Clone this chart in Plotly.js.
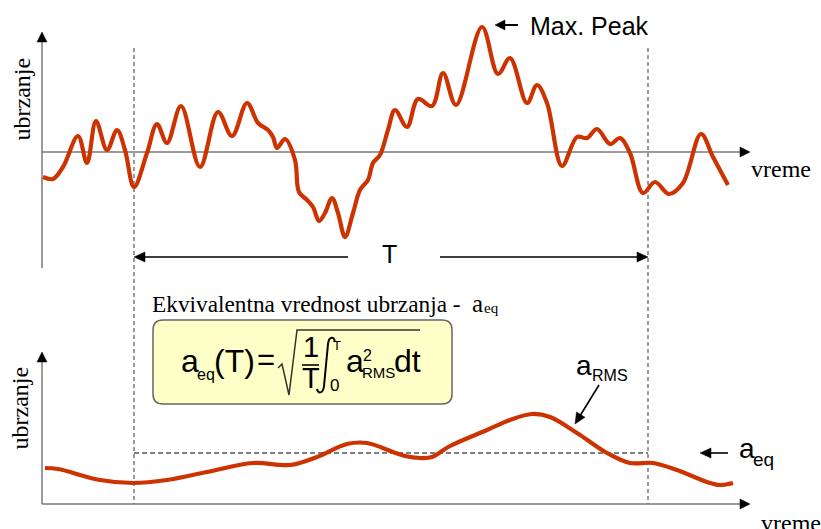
<!DOCTYPE html>
<html>
<head>
<meta charset="utf-8">
<script src="https://cdn.plot.ly/plotly-3.0.1.min.js"></script>
<style>html,body{margin:0;padding:0;background:#fff;}#chart{width:821px;height:529px;}</style>
</head>
<body>
<div id="chart"></div>
<script>
// ---- data (time in arbitrary units, acceleration in arbitrary units) ----
const tTop = [43,53,63,78,87,96,107,117,125,134,147,157,167,181,200,218,232,247,258,268,273,277,285,295,299,307,313,319,325,332,338,345,353,360,368,373,380,388,395,407,418,432,443,456,482,498,510,527,537,547,562,577,587,597,610,620,630,643,655,669,683,701,713,728];
const accTop = [-25,-27,-15,16,-11,31,2,22,2,-35,-1,28,9,46,-15,40,16,49,29,22,15,4,13,-8,-40,-48,-55,-69,-61,-46,-61,-85,-61,-38,-28,-11,-3,22,42,25,53,46,79,47,125,78,94,49,67,49,-14,15,14,23,8,14,-1,-41,-30,-42,-31,18,-5,-33];
const tBottom = [45,58,100,133,167,207,253,290,317,347,367,393,405,420,432,450,487,510,532,550,577,607,630,653,677,707,720,733];
const aRms = [36,35,24,21,24,32,41,39,47,60,61,52,48,46,47,58,74,84,90,87,71,51,41,41,34,22,19,21];
const tWindow = [134, 648];   // start / end of averaging period T
const aEq = [51];             // equivalent value

const W = 821, H = 529;
const RED = '#CC3300';
const SERIF = '"Liberation Serif","Times New Roman",serif';
const SANS = '"Liberation Sans",Arial,sans-serif';

const traces = [
  {x: tTop, y: accTop, xaxis:'x', yaxis:'y', mode:'lines', hoverinfo:'skip',
   line:{color:RED, width:4.2, shape:'spline', smoothing:1}},
  {x: tBottom, y: aRms, xaxis:'x', yaxis:'y2', mode:'lines', hoverinfo:'skip',
   line:{color:RED, width:4.2, shape:'spline', smoothing:1}}
];

const shapes = [];
const ann = [];
function line(x0,y0,x1,y1,color,width,dash,layer){
  shapes.push({type:'line', xref:'x', yref:'y3', x0:x0,y0:y0,x1:x1,y1:y1,
    line:{color:color,width:width,dash:dash||'solid'}, layer:layer||'above'});
}
function path(d,color,width,fill,layer){
  shapes.push({type:'path', xref:'x', yref:'y3', path:d,
    line:{color:color,width:width}, fillcolor:fill||'rgba(0,0,0,0)', layer:layer||'above'});
}
function head(tx,ty,fx,fy,len,hw,color){
  const dx=tx-fx, dy=ty-fy, L=Math.hypot(dx,dy), ux=dx/L, uy=dy/L;
  const bx=tx-ux*len, by=ty-uy*len, px=-uy*hw, py=ux*hw;
  path(`M ${tx},${ty} L ${bx+px},${by+py} L ${bx-px},${by-py} Z`, color, 0.5, color);
}
function arrow(fx,fy,tx,ty,len,hw,color,width){
  const dx=tx-fx, dy=ty-fy, L=Math.hypot(dx,dy);
  line(fx,fy,tx-dx/L*len*0.8,ty-dy/L*len*0.8,color,width);
  head(tx,ty,fx,fy,len,hw,color);
}
function txt(text,x,base,size,family,xanchor){
  const k = family===SERIF ? 0.3375 : 0.3465;
  ann.push({text:text, x:x, y:base - k*size, xref:'x', yref:'y3', showarrow:false,
    xanchor:xanchor||'center', yanchor:'middle',
    font:{family:family,size:size,color:'#000'}});
}
function vtxt(text,x,yc,size,family){
  ann.push({text:text, x:x, y:yc, xref:'x', yref:'y3', showarrow:false,
    xanchor:'center', yanchor:'middle', textangle:-90,
    font:{family:family,size:size,color:'#000'}});
}

const GRAY = '#7a7a7a';
// top axes
line(42,152,742,152,GRAY,1.5,'solid','below');
line(42,268,42,40,GRAY,1.5,'solid','below');
head(42,32,42,60,10,5,'#000');
head(750,152,700,152,10,5,'#000');
// bottom axes
line(42,504,742,504,GRAY,1.5,'solid','below');
line(42,504,42,360,GRAY,1.5,'solid','below');
head(42,352,42,400,10,5,'#000');
head(750,504,700,504,10,5,'#000');

// averaging window (dashed verticals, data x)
tWindow.forEach(t => shapes.push({type:'line', xref:'x', yref:'y3', x0:t, x1:t, y0:48, y1:504,
  line:{color:'#666',width:1.3,dash:'4px,3px'}, layer:'below'}));
// a_eq dashed level
shapes.push({type:'line', xref:'x', yref:'y2', x0:tWindow[0], x1:tWindow[1], y0:aEq[0], y1:aEq[0],
  line:{color:'#000',width:1.2,dash:'5px,3px'}, layer:'below'});

// T arrows
arrow(348,257,tWindow[0],257,11,5,'#000',1.5);
arrow(440,257,tWindow[1],257,11,5,'#000',1.5);
txt('T',389.5,263,25,SANS);

// Max. Peak
arrow(518,25,495,25,10,5,'#000',2);
txt('Max. Peak',528,35,25,SANS,'left');

// axis labels
vtxt('ubrzanje',21.5,99,24,SERIF);
vtxt('ubrzanje',19.5,408,24,SERIF);
txt('vreme',781,177,24,SERIF);
txt('vreme',791,531,24,SERIF);

// title
txt('Ekvivalentna vrednost ubrzanja -',150,312,23.3,SERIF,'left');
txt('a',477.5,312,25,SERIF);
txt('eq',491,313,15,SERIF);

// formula box
(function(){
  const x0=153,y0=320,x1=452,y1=404,r=10;
  path(`M ${x0+r},${y0} L ${x1-r},${y0} Q ${x1},${y0} ${x1},${y0+r} L ${x1},${y1-r} Q ${x1},${y1} ${x1-r},${y1} L ${x0+r},${y1} Q ${x0},${y1} ${x0},${y1-r} L ${x0},${y0+r} Q ${x0},${y0} ${x0+r},${y0} Z`,
    '#666',1.5,'#FFFFC8','below');
})();
// formula pieces
txt('a',190,372,32,SANS);
txt('eq',206,380,16,SANS);
txt('(T)',234,372,32,SANS);
txt('=',265.5,370,31,SANS);
path('M 278,368 L 282,364 L 289,395 L 297,330 L 420,330','#333',1.5);
txt('1',311,357,29,SANS);
line(302,365,319,365,'#000',1.6);
txt('T',310.5,388,29,SANS);
path('M 335,342 C 334,336 329,336 328,344 L 324,386 C 323,394 318,394 317,389','#000',2);
txt('T',337,350,13,SANS);
txt('0',334,391,17,SANS);
txt('a',355,372,32,SANS);
txt('2',367.5,361,16,SANS);
txt('RMS',378,378,15,SANS);
txt('dt',407.5,372,32,SANS);

// a_RMS label
txt('a',583.5,375,28,SANS);
txt('RMS',610,381,16,SANS);
arrow(599,385,575,424,11,5,'#000',1.6);
// a_eq label
txt('a',746.5,458,28,SANS);
txt('eq',763,466,19,SANS);
arrow(728,453,700,453,11,5,'#000',1.6);

const layout = {
  width:W, height:H, margin:{l:0,r:0,t:0,b:0}, showlegend:false,
  paper_bgcolor:'#fff', plot_bgcolor:'#fff',
  xaxis:{domain:[0,1], range:[0,W], visible:false, fixedrange:true},
  yaxis:{domain:[0,1], range:[152-H,152], visible:false, fixedrange:true},
  yaxis2:{overlaying:'y', range:[504-H,504], visible:false, fixedrange:true},
  yaxis3:{overlaying:'y', range:[H,0], visible:false, fixedrange:true},
  shapes:shapes, annotations:ann
};
Plotly.newPlot('chart', traces, layout, {staticPlot:true, displayModeBar:false});
</script>
</body>
</html>
